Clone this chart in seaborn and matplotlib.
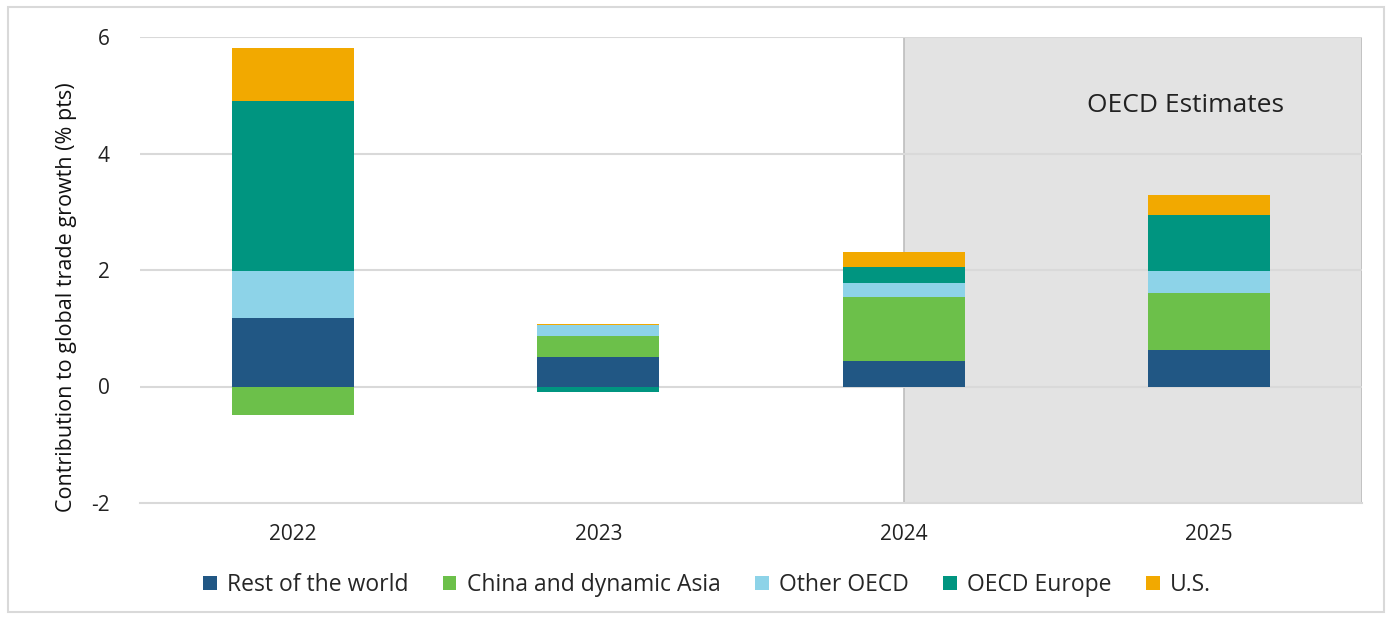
import numpy as np
import pandas as pd
import matplotlib
matplotlib.use("Agg")
import matplotlib.pyplot as plt
import seaborn as sns
from matplotlib.patches import Rectangle

years = ["2022", "2023", "2024", "2025"]
series = ["Rest of the world", "China and dynamic Asia", "Other OECD", "OECD Europe", "U.S."]
rest_of_world = [1.17, 0.50, 0.43, 0.63]
china_asia = [-0.49, 0.36, 1.11, 0.97]
other_oecd = [0.82, 0.19, 0.24, 0.39]
oecd_europe = [2.91, -0.10, 0.27, 0.95]
us = [0.91, 0.03, 0.26, 0.35]
colors = ["#215784", "#6cc04a", "#8dd3e8", "#009580", "#f2a900"]
y_ticks = [-2, 0, 2, 4, 6]

df = pd.DataFrame({"year": years,
                   series[0]: rest_of_world, series[1]: china_asia,
                   series[2]: other_oecd, series[3]: oecd_europe, series[4]: us})

sns.set_theme(style="white")
plt.rcParams['font.family'] = ['Open Sans', 'DejaVu Sans']

fig = plt.figure(figsize=(13.89, 6.18), dpi=100)
ax = fig.add_axes([140/1389, 1 - 503/618, (1362-140)/1389, (503-37)/618])

x = np.arange(len(years))
pos_bottom = np.zeros(len(years))
neg_bottom = np.zeros(len(years))
palette = dict(zip(series, colors))
for s in series:
    vals = df[s].to_numpy()
    bottoms = np.where(vals >= 0, pos_bottom, neg_bottom)
    ax.bar(x, vals, width=0.40, bottom=bottoms, color=palette[s], label=s,
           zorder=3, edgecolor="none")
    pos_bottom = pos_bottom + np.where(vals >= 0, vals, 0)
    neg_bottom = neg_bottom + np.where(vals < 0, vals, 0)

ax.set_xlim(-0.5, 3.5)
ax.set_ylim(-2, 6)
ax.axvspan(2.0, 3.5, ymin=0, ymax=1, facecolor="#e3e3e3", edgecolor="#bdbdbd",
           linewidth=1.2, zorder=0)
ax.text(2.923, 4.82, "OECD Estimates", fontsize=19, color="#222222",
        ha="center", va="center", zorder=4)

ax.set_yticks(y_ticks)
ax.set_yticklabels([str(v) for v in y_ticks])
for yv in y_ticks[1:]:
    ax.axhline(yv, color="#d9d9d9", lw=1.5, zorder=1)

ax.set_xticks(x)
ax.set_xticklabels(years)
ax.set_xticks(np.arange(-0.5, 4.0, 1.0), minor=True)
ax.tick_params(axis="x", which="major", length=0, pad=15, labelsize=15, colors="#222222")
ax.tick_params(axis="x", which="minor", length=6, width=1.2, color="#d9d9d9", direction="out")
ax.tick_params(axis="y", length=0, pad=22, labelsize=15, colors="#222222")

for sp in ["top", "right", "left"]:
    ax.spines[sp].set_visible(False)
ax.spines["bottom"].set_color("#d9d9d9")
ax.spines["bottom"].set_linewidth(1.5)
ax.set_facecolor("none")

ax.set_ylabel("Contribution to global trade growth (% pts)", fontsize=15.5,
              color="#111111")
ax.yaxis.set_label_coords(-63/1222, (503-297)/466)

handles, labels = ax.get_legend_handles_labels()
fig.legend(handles, labels, loc="center", bbox_to_anchor=(707/1389, 1 - 585/618),
           ncol=5, frameon=False, fontsize=16.5, handlelength=0.6, handleheight=0.6,
           handletextpad=0.45, columnspacing=1.5)

fig.patches.append(Rectangle((8/1389, 1 - 612/618), (1384-8)/1389, (612-7)/618,
                             transform=fig.transFigure, fill=False,
                             edgecolor="#d9d9d9", linewidth=1.5))

fig.savefig("out.png", dpi=100)
